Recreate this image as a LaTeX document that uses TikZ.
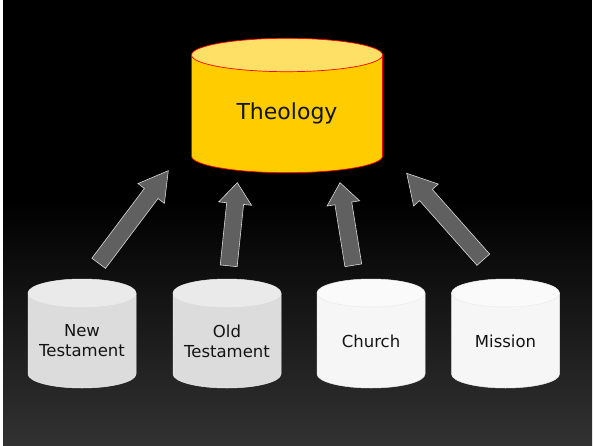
\documentclass[tikz,border=0pt]{standalone}
\usepackage{fontspec}
\setmainfont{DejaVu Sans}
\usepackage{tikz}
\usetikzlibrary{calc}

\definecolor{bgbot}{HTML}{323232}
\definecolor{theofill}{HTML}{FFCC00}
\definecolor{theolid}{HTML}{FFE066}
\definecolor{cylgrey}{HTML}{DCDCDC}
\definecolor{lidgrey}{HTML}{EAEAEA}
\definecolor{cylwhite}{HTML}{F6F6F6}
\definecolor{lidwhite}{HTML}{FAFAFA}
\definecolor{arrowgrey}{HTML}{606060}

% block arrow: [head length]{tail}{tip}
\newcommand\blockarrow[3][21]{%
  \coordinate (hb) at ($(#3)!#1pt!(#2)$);
  \draw[uparrow] ($(#2)!8.5pt!90:(#3)$) -- ($(hb)!8.5pt!90:(#3)$) -- ($(hb)!16.5pt!90:(#3)$) -- (#3)
    -- ($(hb)!16.5pt!-90:(#3)$) -- ($(hb)!8.5pt!-90:(#3)$) -- ($(#2)!8.5pt!-90:(#3)$) -- cycle;}

\begin{document}
\begin{tikzpicture}[x=1pt, y=-1pt,
   uparrow/.style={fill=arrowgrey, draw=white!85!black, line width=0.6pt, line join=miter},
   smallcyl/.style={draw=white!92!black, line width=0.5pt},
   cyltext/.style={align=center, text=black!92, font=\fontsize{16.5}{20}\selectfont}]
   \useasboundingbox (0,0) rectangle (593,446);
   \fill[white] (0,0) rectangle (593,446);
   \fill[black] (3,0) rectangle (592,201);
   \shade[top color=black, bottom color=bgbot] (3,200) rectangle (592,446);
   % top store
   \draw[red, line width=0.7pt, fill=theofill] (191.5,55) -- (191.5,156) arc[start angle=180, end angle=0, x radius=95.5, y radius=16.7] -- (382.5,55) -- cycle;
   \draw[red, line width=0.7pt, fill=theolid] (287,55) ellipse [x radius=95.5, y radius=16.7];
   \node[text=black!92, font=\fontsize{22}{26}\selectfont] (theology) at (287,113) {Theology};
   % sources
   \foreach \x/\name/\txt/\body/\lid in {82/newt/{New\\Testament}/cylgrey/lidgrey, 227/oldt/{Old\\Testament}/cylgrey/lidgrey, 371/church/{Church}/cylwhite/lidwhite, 505.5/mission/{Mission}/cylwhite/lidwhite} {
       \draw[smallcyl, fill=\body] (\x-54,293) -- (\x-54,374) arc[start angle=180, end angle=0, x radius=54, y radius=14] -- (\x+54,293) -- cycle;
       \draw[smallcyl, fill=\lid] (\x,293) ellipse [x radius=54, y radius=14];
       \node[cyltext] (\name) at (\x,341) {\txt};
   }
   % arrows
   \coordinate (newt-tail) at (98.7,263.3);
   \coordinate (newt-tip) at (168.3,170.7);
   \coordinate (oldt-tail) at (228.7,265.8);
   \coordinate (oldt-tip) at (237.3,182.7);
   \coordinate (church-tail) at (353.3,265.3);
   \coordinate (church-tip) at (340,182.7);
   \coordinate (mission-tail) at (483.3,259.7);
   \coordinate (mission-tip) at (406.7,173.3);
   \blockarrow[28.5]{newt-tail}{newt-tip}
   \blockarrow{oldt-tail}{oldt-tip}
   \blockarrow{church-tail}{church-tip}
   \blockarrow[29]{mission-tail}{mission-tip}
\end{tikzpicture}
\end{document}
